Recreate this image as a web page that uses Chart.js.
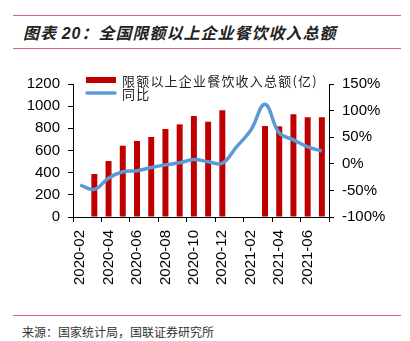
<!DOCTYPE html>
<html lang="zh">

<head>
    <meta charset="UTF-8">
    <title>全国限额以上企业餐饮收入总额</title>
    <script src="https://cdn.jsdelivr.net/npm/chart.js"></script>
    <style>
        body {
            margin: 0;
            width: 410px;
            height: 341px;
            background: #fff;
            overflow: hidden;
            position: relative;
            font-family: "Noto Sans CJK SC", sans-serif;
        }

        .rule {
            position: absolute;
            left: 13px;
            width: 388px;
            border-top: 1.5px solid #dc6478;
        }

        .title {
            position: absolute;
            left: 23px;
            top: 20px;
            font-size: 16px;
            font-weight: bold;
            font-style: italic;
            letter-spacing: 1px;
            color: #222;
        }

        .title .num {
            font-family: "Liberation Sans", Arial, sans-serif;
        }

        .source {
            position: absolute;
            left: 22px;
            top: 323px;
            font-size: 12px;
            color: #333;
        }

        .chart-box {
            position: absolute;
            left: 0;
            top: 56px;
            width: 410px;
            height: 250px;
        }
    </style>
</head>

<body>
    <div class="rule" style="top: 15px;"></div>
    <div class="title">图表 <span class="num">20</span>：全国限额以上企业餐饮收入总额</div>
    <div class="rule" style="top: 48px;"></div>

    <div class="chart-box">
        <canvas id="chart"></canvas>
    </div>

    <div class="rule" style="top: 315px;"></div>
    <div class="source">来源：国家统计局，国联证券研究所</div>

    <script>
        const months = [
            '2020-02', '2020-03', '2020-04', '2020-05', '2020-06', '2020-07',
            '2020-08', '2020-09', '2020-10', '2020-11', '2020-12', '2021-01',
            '2021-02', '2021-03', '2021-04', '2021-05', '2021-06', '2021-07'
        ];
        // 收入总额（亿元），1-2月合并公布，故缺值
        const revenue = [null, 388, 505, 643, 686, 722, 794, 836, 911, 860, 963, null, null, 821, 818, 927, 900, 900];
        // 同比（%）
        const yoy = [-40, -48, -27, -15, -13, -7, -2, 2, 8, 4, 1, 32, 63, 112, 58, 45, 32, 24];

        const leftTicks = [0, 200, 400, 600, 800, 1000, 1200];
        const rightTicks = [-100, -50, 0, 50, 100, 150];

        const barColor = '#c00000';
        const lineColor = '#5b9bd5';
        const axisFont = { family: '"Liberation Sans", Arial, sans-serif', size: 15 };

        // legend sits inside the plot, top-left
        const insideLegend = {
            id: 'insideLegend',
            afterDraw(chart) {
                const { ctx, chartArea } = chart;
                const x = chartArea.left + 13;
                const y = chartArea.top - 4;
                ctx.save();
                ctx.fillStyle = barColor;
                ctx.fillRect(x, y - 3, 30, 6);
                ctx.strokeStyle = lineColor;
                ctx.lineWidth = 3.5;
                ctx.lineCap = 'round';
                ctx.beginPath();
                ctx.moveTo(x + 1, y + 13);
                ctx.lineTo(x + 29, y + 13);
                ctx.stroke();
                ctx.fillStyle = '#222';
                ctx.font = '13px "Noto Sans CJK SC"';
                ctx.letterSpacing = '1.2px';
                ctx.textBaseline = 'middle';
                ctx.fillText(chart.data.datasets[0].label, x + 36, y + 1);
                ctx.fillText(chart.data.datasets[1].label, x + 36, y + 14);
                ctx.restore();
            }
        };

        const tickGrid = {
            drawOnChartArea: false,
            drawTicks: true,
            tickLength: 5,
            color: '#000'
        };

        new Chart(document.getElementById('chart'), {
            data: {
                labels: months,
                datasets: [{
                    type: 'bar',
                    label: '限额以上企业餐饮收入总额(亿)',
                    data: revenue,
                    backgroundColor: barColor,
                    barPercentage: 0.42,
                    categoryPercentage: 1,
                    yAxisID: 'y',
                    order: 2
                }, {
                    type: 'line',
                    label: '同比',
                    data: yoy,
                    borderColor: lineColor,
                    borderWidth: 3.5,
                    pointRadius: 0,
                    tension: 0.4,
                    fill: false,
                    yAxisID: 'y1',
                    order: 1
                }]
            },
            options: {
                responsive: true,
                maintainAspectRatio: false,
                animation: false,
                layout: {
                    padding: { top: 28, left: 0, right: 0, bottom: 0 }
                },
                plugins: {
                    legend: { display: false },
                    tooltip: { enabled: false }
                },
                scales: {
                    x: {
                        offset: true,
                        afterFit: axis => { axis.height = 89; },
                        grid: {
                            ...tickGrid,
                            offset: true,
                            color: ctx => (ctx.index ?? 0) % 2 === 0 ? '#000' : 'rgba(0,0,0,0)'
                        },
                        border: { color: '#000', width: 1 },
                        ticks: {
                            autoSkip: false,
                            minRotation: 90,
                            maxRotation: 90,
                            padding: 8,
                            color: '#000',
                            font: axisFont,
                            callback: (v, i) => i % 2 === 0 ? months[i] : ''
                        }
                    },
                    y: {
                        position: 'left',
                        min: leftTicks[0],
                        max: leftTicks[leftTicks.length - 1],
                        afterFit: axis => { axis.width = 73; },
                        grid: tickGrid,
                        border: { color: '#000', width: 1 },
                        afterBuildTicks: axis => { axis.ticks = leftTicks.map(v => ({ value: v })); },
                        ticks: {
                            padding: 8,
                            color: '#000',
                            font: axisFont,
                            callback: v => String(v)
                        }
                    },
                    y1: {
                        position: 'right',
                        min: rightTicks[0],
                        max: rightTicks[rightTicks.length - 1],
                        afterFit: axis => { axis.width = 81; },
                        grid: tickGrid,
                        border: { color: '#000', width: 1 },
                        afterBuildTicks: axis => { axis.ticks = rightTicks.map(v => ({ value: v })); },
                        ticks: {
                            padding: 8,
                            color: '#000',
                            font: axisFont,
                            callback: v => v + '%'
                        }
                    }
                }
            },
            plugins: [insideLegend]
        });
    </script>
</body>

</html>
